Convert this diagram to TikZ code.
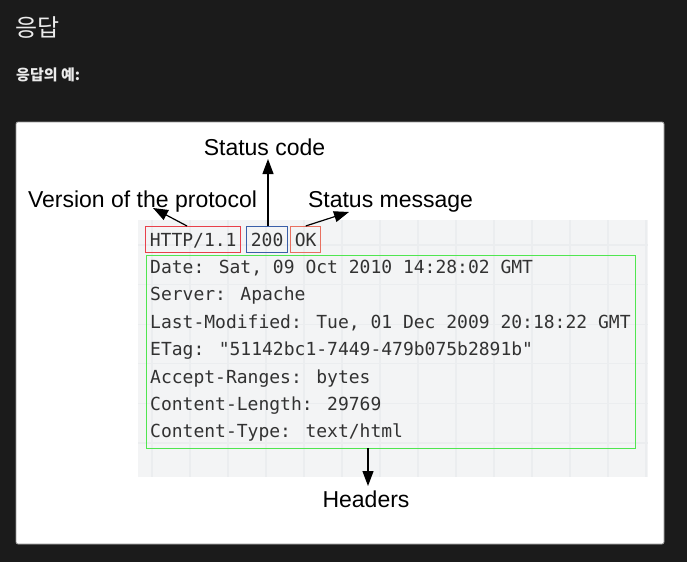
\documentclass[tikz,border=0pt]{standalone}
\usepackage{fontspec}
\setmainfont{Liberation Sans}
\newfontfamily\krfont{Noto Sans CJK KR}
\newfontfamily\monofont{DejaVu Sans Mono}
\usetikzlibrary{arrows.meta,calc}
\definecolor{pagebg}{RGB}{27,27,27}
\definecolor{panelline}{RGB}{150,150,150}
\definecolor{graybg}{RGB}{243,244,245}
\definecolor{gridc}{RGB}{235,237,239}
\definecolor{redbox}{RGB}{232,64,74}
\definecolor{bluebox}{RGB}{58,95,168}
\definecolor{okbox}{RGB}{232,112,96}
\definecolor{greenbox}{RGB}{80,230,80}
\definecolor{monotext}{RGB}{50,50,50}
\definecolor{krtext}{RGB}{236,236,236}
\tikzset{
  codebox/.style={draw, line width=1.1pt, inner xsep=4.3pt, inner ysep=4.5pt,
    text height=15pt, text depth=2pt, font=\monofont\fontsize{18}{18}\selectfont,
    text=monotext, anchor=north west},
  hline/.style={anchor=base west, inner sep=0pt, text=monotext,
    font=\monofont\fontsize{18}{18}\selectfont},
  callout/.style={anchor=base, inner sep=0pt, text=black,
    font=\fontsize{23}{23}\selectfont},
  pointer/.style={line width=1.2pt, -{Triangle[length=15pt,width=11pt]}}
}
\begin{document}
\begin{tikzpicture}[x=1pt,y=-1pt]
\fill[pagebg] (0,0) rectangle (687,562);
\useasboundingbox (0,0) rectangle (687,562);
% titles
\node[anchor=west, inner sep=0pt, text=krtext, font=\krfont\fontsize{24}{24}\selectfont] (title) at (15,28) {응답};
\node[anchor=west, inner sep=0pt, text=krtext, font=\krfont\bfseries\fontsize{15}{15}\selectfont] (subtitle) at (16,75) {응답의 예:};
% panel
\draw[fill=white, draw=panelline, line width=0.8pt, rounded corners=2pt] (16,122) rectangle (664,544);
% gray grid area
\fill[graybg] (138,220) rectangle (648,477);
\begin{scope}
\clip (138,220) rectangle (648,477);
\foreach \gx in {152,190,...,648} \draw[gridc, line width=1.2pt] (\gx,220) -- (\gx,477);
\foreach \gy in {245,284.6,324.2,363.8,403.4,443} \draw[gridc, line width=1.2pt] (138,\gy) -- (648,\gy);
\end{scope}
% start line boxes
\node[codebox, draw=redbox] (http) at (145,226) {HTTP/1.1};
\node[codebox, draw=bluebox] (code) at (246,226) {200};
\node[codebox, draw=okbox] (ok) at (290,226) {OK};
% headers box
\node[draw=greenbox, line width=1.2pt, minimum width=489pt, minimum height=193pt, inner sep=0pt, anchor=north west] (hdrbox) at (146,255) {};
\node[hline] (h1) at (150,273.5) {Date: Sat, 09 Oct 2010 14:28:02 GMT};
\node[hline] (h2) at (150,300.9) {Server: Apache};
\node[hline] (h3) at (150,328.3) {Last-Modified: Tue, 01 Dec 2009 20:18:22 GMT};
\node[hline] (h4) at (150,355.7) {ETag: "51142bc1-7449-479b075b2891b"};
\node[hline] (h5) at (150,383.1) {Accept-Ranges: bytes};
\node[hline] (h6) at (150,410.5) {Content-Length: 29769};
\node[hline] (h7) at (150,437.9) {Content-Type: text/html};
% callout labels
\node[callout] (lcode) at (264.5,155.5) {Status code};
\node[callout] (lver) at (142.5,207) {Version of the protocol};
\node[callout] (lmsg) at (390.5,207) {Status message};
\node[callout] (lhdr) at (366,507) {Headers};
% arrow tips
\coordinate (tcode) at (268,159);
\coordinate (tver) at (153,208);
\coordinate (tmsg) at (349,212);
\coordinate (thdr) at (368,486);
\coordinate (shdr) at (368,448);
% arrows
\draw[pointer] (code.north -| tcode) -- (tcode);
\draw[pointer] ($(http.north west)+(42,0)$) -- (tver);
\draw[pointer] (ok.north) -- (tmsg);
\draw[pointer] (shdr) -- (thdr);
\end{tikzpicture}
\end{document}
